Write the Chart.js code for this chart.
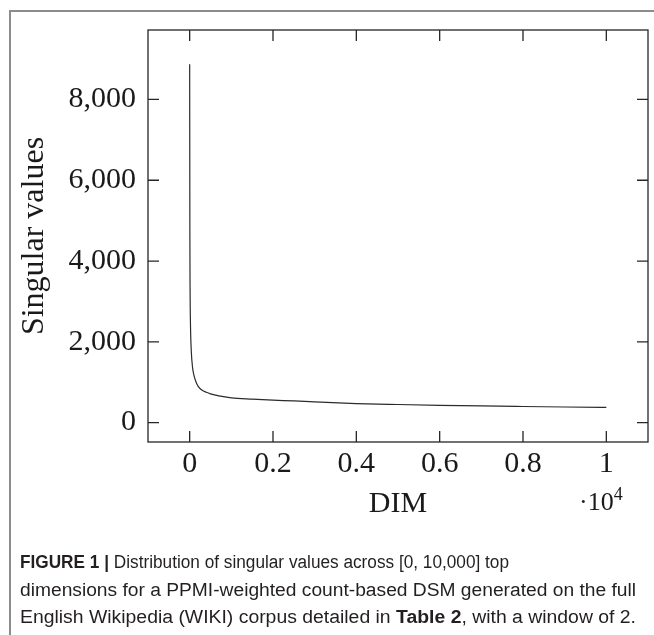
<!DOCTYPE html>
<html><head><meta charset="utf-8">
<script src="https://cdn.jsdelivr.net/npm/chart.js@4/dist/chart.umd.min.js"></script>
<style>
html,body{margin:0;padding:0;background:#fff;}
#wrap{position:relative;width:654px;height:635px;overflow:hidden;background:#fff;}
#frame{position:absolute;left:9px;top:10px;width:660px;height:640px;border-top:2px solid #8c8c8c;border-left:2px solid #8c8c8c;}
#c{position:absolute;left:0;top:0;}
#exp{position:absolute;left:579px;top:487px;font-family:'Liberation Serif',serif;font-size:26px;color:#1a1a1a;line-height:30px;white-space:nowrap;}
#exp sup{font-size:18px;vertical-align:10px;line-height:0;}
.cap{position:absolute;left:20px;height:28px;line-height:28px;font-family:'Liberation Sans',Arial,sans-serif;font-size:18px;color:#231f20;white-space:nowrap;transform-origin:0 50%;}
.cap b{font-weight:bold;}
</style></head>
<body>
<div id="wrap">
<div id="frame"></div>
<canvas id="c" width="654" height="635"></canvas>
<div id="exp">·10<sup>4</sup></div>
<div class="cap" id="l1" style="top:548px"><b>FIGURE 1 |</b> Distribution of singular values across [0, 10,000] top</div>
<div class="cap" id="l2" style="top:576px">dimensions for a PPMI-weighted count-based DSM generated on the full</div>
<div class="cap" id="l3" style="top:603px">English Wikipedia (WIKI) corpus detailed in <b>Table 2</b>, with a window of 2.</div>
</div>
<script>
// ---- data ----
const dims = [0, 5, 10, 20, 40, 70, 100, 150, 200, 300, 400, 500, 700, 1000, 1500, 2000, 2500, 3000, 4000, 5000, 6000, 7000, 8000, 9000, 10000];
const singularValues = [8870, 4600, 3300, 2400, 1750, 1360, 1180, 1010, 905, 800, 750, 712, 660, 612, 580, 555, 537, 512, 472, 448, 428, 412, 399, 387, 376];
const xTickValues = [0, 2000, 4000, 6000, 8000, 10000];
const xTickLabels = ['0', '0.2', '0.4', '0.6', '0.8', '1'];
const yTickValues = [0, 2000, 4000, 6000, 8000];
const yTickLabels = ['0', '2,000', '4,000', '6,000', '8,000'];
const xTitle = 'DIM';
const yTitle = 'Singular values';

const serif = "'Liberation Serif', 'Times New Roman', serif";

const boxPlugin = {
  id: 'boxTicks',
  afterDraw(chart) {
    const {ctx, chartArea: a, scales} = chart;
    const L = 11;
    ctx.save();
    ctx.strokeStyle = '#262626';
    ctx.lineWidth = 1.3;
    ctx.strokeRect(a.left, a.top, a.right - a.left, a.bottom - a.top);
    ctx.beginPath();
    xTickValues.forEach(v => {
      const p = scales.x.getPixelForValue(v);
      ctx.moveTo(p, a.bottom); ctx.lineTo(p, a.bottom - L);
      ctx.moveTo(p, a.top); ctx.lineTo(p, a.top + L);
    });
    yTickValues.forEach(v => {
      const p = scales.y.getPixelForValue(v);
      ctx.moveTo(a.left, p); ctx.lineTo(a.left + L, p);
      ctx.moveTo(a.right, p); ctx.lineTo(a.right - L, p);
    });
    ctx.stroke();
    ctx.restore();
  }
};

new Chart(document.getElementById('c'), {
  type: 'line',
  data: {
    datasets: [{
      data: dims.map((d, i) => ({x: d, y: singularValues[i]})),
      borderColor: '#2b2b2b',
      borderWidth: 1.2,
      pointRadius: 0,
      fill: false,
      cubicInterpolationMode: 'monotone'
    }]
  },
  options: {
    responsive: false,
    animation: false,
    devicePixelRatio: 1,
    layout: {padding: {left: 0, top: 26, right: 6, bottom: 95}},
    plugins: {legend: {display: false}, tooltip: {enabled: false}},
    scales: {
      x: {
        type: 'linear', min: -1000, max: 11000,
        grid: {display: false, drawTicks: false},
        border: {display: false},
        afterBuildTicks: s => { s.ticks = xTickValues.map(v => ({value: v})); },
        afterFit: s => { s.height = 98; },
        ticks: {
          padding: 4, color: '#1a1a1a', maxRotation: 0, autoSkip: false,
          font: {family: serif, size: 30},
          callback: (v) => { const i = xTickValues.indexOf(v); return i >= 0 ? xTickLabels[i] : ''; }
        },
        title: {display: true, text: xTitle, color: '#1a1a1a', font: {family: serif, size: 30}, padding: {top: 0, bottom: 18}}
      },
      y: {
        type: 'linear', min: -480, max: 9720,
        grid: {display: false, drawTicks: false},
        border: {display: false},
        afterBuildTicks: s => { s.ticks = yTickValues.map(v => ({value: v})); },
        afterFit: s => { s.width = 148; },
        ticks: {
          padding: 12, color: '#1a1a1a', autoSkip: false,
          font: {family: serif, size: 30},
          callback: (v) => { const i = yTickValues.indexOf(v); return i >= 0 ? yTickLabels[i] : ''; }
        },
        title: {display: true, text: yTitle, color: '#1a1a1a', font: {family: serif, size: 32}, padding: {top: 15, bottom: 0}}
      }
    }
  },
  plugins: [boxPlugin]
});

// caption: each line condensed to the width it has in the reference
const targets = {l1: 489, l2: 616, l3: 616};
Object.keys(targets).forEach(id => {
  const el = document.getElementById(id);
  const k = targets[id] / el.getBoundingClientRect().width;
  el.style.transform = 'scaleX(' + k + ')';
});
</script>
</body></html>
